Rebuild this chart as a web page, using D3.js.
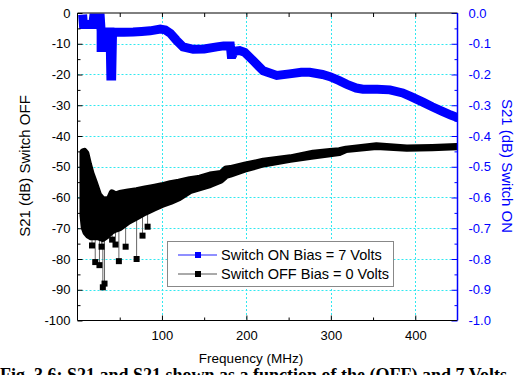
<!DOCTYPE html>
<html>
<head>
<meta charset="utf-8">
<script src="https://cdn.jsdelivr.net/npm/d3@7"></script>
<style>
  html, body { margin: 0; padding: 0; background: #fff; }
  svg { display: block; }
  text { font-family: "Liberation Sans", Arial, sans-serif; }
</style>
</head>
<body>
<svg id="chart" width="520" height="375"></svg>
<script>
// Switch ON trace (right axis, dB)
const onFreq = [6.5, 7, 18, 19, 27, 28, 28, 33, 33.5, 38.5, 39.5, 40.5, 41.5, 55, 66, 76, 86, 98, 104, 110, 117, 125, 137, 150, 165, 173, 181, 182, 184, 186, 192, 198, 208, 220, 236, 251, 265, 275, 290, 299, 310, 319, 330, 338, 355, 370, 385, 395, 409, 420, 432, 442, 450];
const onDb = [-0.02, -0.037, -0.037, -0.016, -0.016, -0.06, -0.112, -0.112, -0.062, -0.062, -0.205, -0.205, -0.062, -0.063, -0.062, -0.06, -0.058, -0.052, -0.055, -0.066, -0.088, -0.11, -0.118, -0.117, -0.11, -0.107, -0.107, -0.135, -0.135, -0.124, -0.122, -0.128, -0.155, -0.188, -0.203, -0.198, -0.193, -0.193, -0.2, -0.207, -0.22, -0.232, -0.244, -0.248, -0.248, -0.25, -0.26, -0.272, -0.29, -0.305, -0.32, -0.332, -0.34];

// Switch OFF trace (left axis, dB): swept min/max band per frequency
const offFreq = [6.5, 8, 10, 13, 16, 20, 25, 30, 35, 37, 41, 45, 50, 60, 70, 80, 90, 100, 110, 120, 133, 145, 157, 170, 176, 181, 198, 220, 252, 279, 299, 310, 318, 354, 390, 420, 449];
const offHigh = [-45.2, -45, -45.7, -49.2, -52.2, -55.2, -59.2, -60.8, -60.7, -61, -58.5, -59.2, -58.7, -58.2, -57.8, -57.2, -56.7, -56.2, -55.5, -55, -54.2, -53.7, -52.7, -52.2, -50.7, -50.6, -49.5, -48.2, -47.1, -45.6, -45, -44.8, -44.3, -43.2, -43.9, -43.7, -43.4];
const offLow = [-65.8, -69.8, -71.3, -72.3, -72.8, -72.8, -72.8, -73.3, -72.3, -71.8, -70.8, -70.3, -69.8, -67.8, -66.3, -64.8, -63.5, -62.3, -61.3, -60.1, -57.8, -56.8, -55.8, -54.3, -52.8, -52.4, -50.8, -49.1, -47.6, -46.5, -45.8, -45.4, -44.4, -43.4, -44, -43.8, -43.5];

// Isolated low readings of the OFF trace
const spikeFreq = [17.2, 21, 26, 28.5, 30, 32, 41, 45, 49, 57, 70, 77, 83];
const spikeDb = [-75.6, -81, -82, -76, -89.2, -88, -73.7, -75.3, -80.7, -76, -80, -72.4, -69.5];

// Axis ticks
const freqTicks = [100, 200, 300, 400];
const freqMinor = [50, 150, 250, 350];
const offTicks = [0, -10, -20, -30, -40, -50, -60, -70, -80, -90, -100];
const offMinor = [-5, -15, -25, -35, -45, -55, -65, -75, -85, -95];
const onTicks = [0, -0.1, -0.2, -0.3, -0.4, -0.5, -0.6, -0.7, -0.8, -0.9, -1.0];
const onMinor = [-0.05, -0.15, -0.25, -0.35, -0.45, -0.55, -0.65, -0.75, -0.85, -0.95];
const gridFreq = [100, 200, 300, 400];
const gridOff = [-10, -20, -30, -40, -50, -60, -70, -80, -90];

const legendLabels = ["Switch ON Bias = 7 Volts", "Switch OFF Bias = 0 Volts"];

const svg = d3.select("#chart");
const L = 77.5, R = 457.5, T = 13, B = 320.5;
const blue = "#0000ff";

const x = d3.scaleLinear().domain([0, 450]).range([L, R]);
const yOff = d3.scaleLinear().domain([-100, 0]).range([B, T]);
const yOn = d3.scaleLinear().domain([-1, 0]).range([B, T]);

svg.append("defs").append("clipPath").attr("id", "plot")
  .append("rect").attr("x", L).attr("y", T).attr("width", R - L).attr("height", B - T);

// grid
const grid = svg.append("g").attr("stroke", "#30e8f0").attr("stroke-width", 1).attr("stroke-dasharray", "2,2");
grid.selectAll(".gx").data(gridFreq).join("line")
  .attr("x1", d => Math.round(x(d)) + 0.5).attr("x2", d => Math.round(x(d)) + 0.5)
  .attr("y1", T).attr("y2", B);
grid.selectAll(".gy").data(gridOff).join("line")
  .attr("y1", d => Math.round(yOff(d)) + 0.5).attr("y2", d => Math.round(yOff(d)) + 0.5)
  .attr("x1", L).attr("x2", R);

const plot = svg.append("g").attr("clip-path", "url(#plot)");

// OFF band
const bandData = offFreq.map((f, i) => ({ f, hi: offHigh[i], lo: offLow[i] }));
const lowAt = d3.scaleLinear().domain(offFreq).range(offLow);

plot.append("g").selectAll("line").data(spikeFreq).join("line")
  .attr("x1", d => x(d)).attr("x2", d => x(d))
  .attr("y1", d => yOff(lowAt(d))).attr("y2", (d, i) => yOff(spikeDb[i]))
  .attr("stroke", "#666").attr("stroke-width", 1);

plot.append("path")
  .datum(bandData)
  .attr("d", d3.area().x(d => x(d.f)).y0(d => yOff(d.lo)).y1(d => yOff(d.hi)))
  .attr("fill", "#000").attr("stroke", "#000").attr("stroke-width", 7)
  .attr("stroke-linejoin", "round");

plot.append("g").selectAll("rect").data(spikeFreq).join("rect")
  .attr("x", d => x(d) - 3).attr("y", (d, i) => yOff(spikeDb[i]) - 3)
  .attr("width", 6).attr("height", 6).attr("fill", "#000");

// ON trace
const onData = onFreq.map((f, i) => ({ f, v: onDb[i] }));
plot.append("path")
  .datum(onData)
  .attr("d", d3.line().x(d => x(d.f)).y(d => yOn(d.v)))
  .attr("fill", "none").attr("stroke", blue).attr("stroke-width", 9)
  .attr("stroke-linejoin", "miter").attr("stroke-miterlimit", 2).attr("stroke-linecap", "square");

// axes
const fmtOn = d => d.toFixed(1);
function styleAxis(g, color) {
  g.select(".domain").remove();
  g.selectAll("line").attr("stroke", color);
  g.selectAll("text").attr("fill", color).style("font-size", "13px")
    .style("font-family", "'Liberation Sans', Arial, sans-serif");
}

svg.append("g").attr("transform", `translate(0,${B})`)
  .call(d3.axisBottom(x).tickValues(freqTicks).tickSizeInner(-5).tickSizeOuter(0).tickPadding(10))
  .call(g => styleAxis(g, "#000"));
svg.append("g").attr("transform", `translate(0,${B})`)
  .call(d3.axisBottom(x).tickValues(freqMinor).tickSize(-3).tickFormat(""))
  .call(g => styleAxis(g, "#000"));
svg.append("g").attr("transform", `translate(0,${T})`)
  .call(d3.axisTop(x).tickValues(freqTicks.concat(freqMinor)).tickSize(-4).tickFormat(""))
  .call(g => styleAxis(g, "#000"));

svg.append("g").attr("transform", `translate(${L},0)`)
  .call(d3.axisLeft(yOff).tickValues(offTicks).tickSizeInner(-5).tickSizeOuter(0).tickPadding(7).tickFormat(d => String(d)))
  .call(g => styleAxis(g, "#000"));
svg.append("g").attr("transform", `translate(${L},0)`)
  .call(d3.axisLeft(yOff).tickValues(offMinor).tickSize(-3).tickFormat(""))
  .call(g => styleAxis(g, "#000"));

svg.append("g").attr("transform", `translate(${R},0)`)
  .call(d3.axisRight(yOn).tickValues(onTicks).tickSizeInner(-6).tickSizeOuter(0).tickPadding(11).tickFormat(fmtOn))
  .call(g => styleAxis(g, blue));
svg.append("g").attr("transform", `translate(${R},0)`)
  .call(d3.axisRight(yOn).tickValues(onMinor).tickSize(-3).tickFormat(""))
  .call(g => styleAxis(g, blue));

// frame
svg.append("line").attr("x1", L).attr("x2", R).attr("y1", T).attr("y2", T).attr("stroke", "#000");
svg.append("line").attr("x1", L).attr("x2", R).attr("y1", B).attr("y2", B).attr("stroke", "#000");
svg.append("line").attr("x1", L).attr("x2", L).attr("y1", T).attr("y2", B).attr("stroke", "#000");
svg.append("line").attr("x1", R).attr("x2", R).attr("y1", T).attr("y2", B).attr("stroke", blue).attr("stroke-width", 1.5);

// axis titles
svg.append("text").attr("transform", "translate(30,166) rotate(-90)")
  .attr("text-anchor", "middle").style("font-size", "15px").text("S21 (dB) Switch OFF");
svg.append("text").attr("transform", "translate(502,166) rotate(90)")
  .attr("text-anchor", "middle").attr("fill", blue).style("font-size", "15px").text("S21 (dB) Switch ON");
svg.append("text").attr("x", 251).attr("y", 363)
  .attr("text-anchor", "middle").style("font-size", "13.5px").text("Frequency (MHz)");

// legend
const lg = svg.append("g");
lg.append("rect").attr("x", 167.5).attr("y", 241.5).attr("width", 226).attr("height", 45)
  .attr("fill", "#fff").attr("stroke", "#888");
const legendRows = [
  { label: legendLabels[0], line: "#6a6aff", mark: blue, y: 255 },
  { label: legendLabels[1], line: "#555", mark: "#000", y: 274 }
];
legendRows.forEach(r => {
  lg.append("line").attr("x1", 178).attr("x2", 217).attr("y1", r.y).attr("y2", r.y)
    .attr("stroke", r.line).attr("stroke-width", r.mark === blue ? 1.5 : 1);
  lg.append("rect").attr("x", 195).attr("y", r.y - 3).attr("width", 6).attr("height", 6).attr("fill", r.mark);
  lg.append("text").attr("x", 221).attr("y", r.y + 5).style("font-size", "14.5px").text(r.label);
});

// caption (runs past the bottom edge of the page)
svg.append("text").attr("x", 0).attr("y", 381)
  .style("font-family", "'Liberation Serif', 'Times New Roman', serif")
  .style("font-weight", "bold").style("font-size", "18px")
  .text("Fig. 3.6:  S21 and S21 shown as a function of the (OFF) and 7 Volts");
</script>
</body>
</html>
